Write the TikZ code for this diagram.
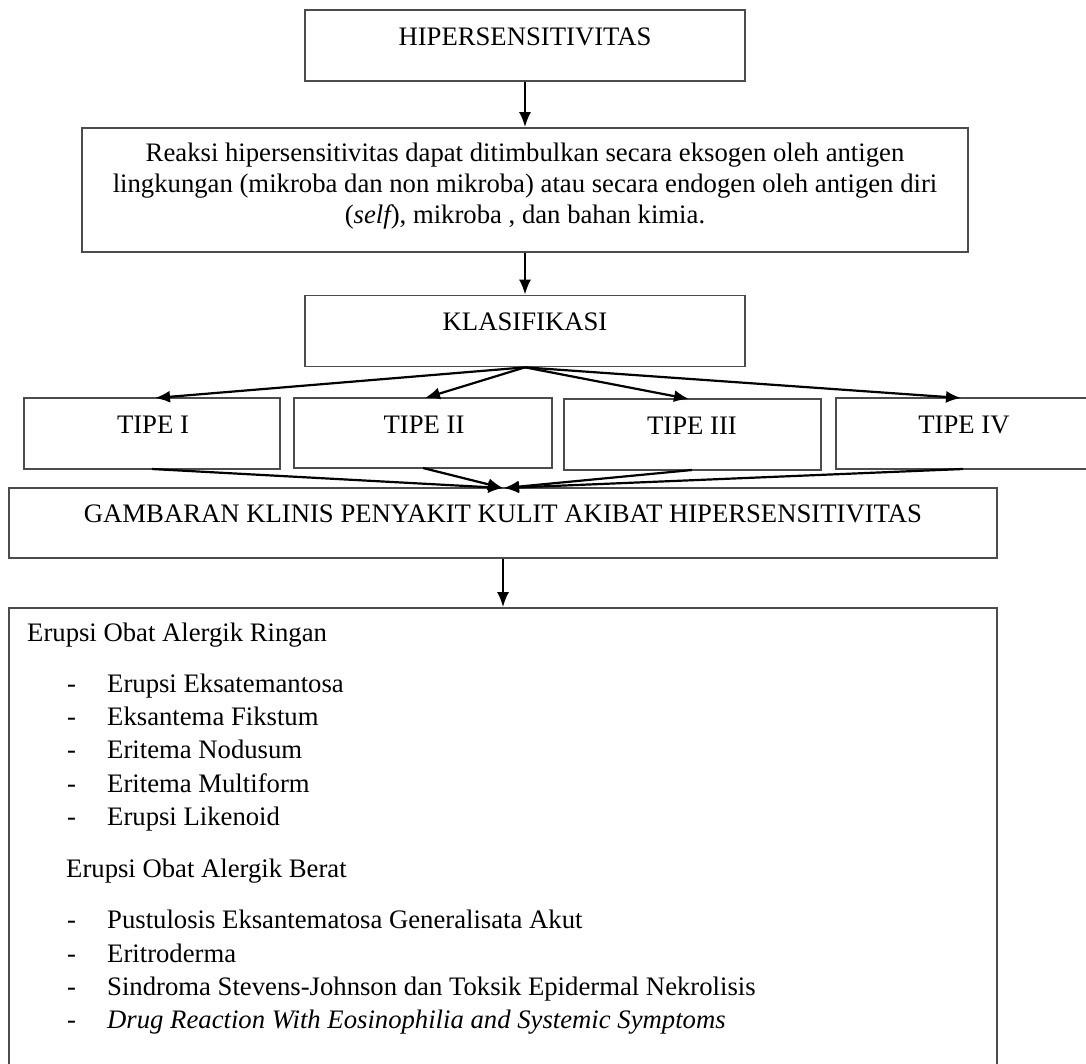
\documentclass[tikz,border=0pt]{standalone}
\usepackage{fontspec}
\setmainfont{Liberation Serif}
\usetikzlibrary{arrows.meta}
\tikzset{
  box/.style={draw=black!70, line width=1.7pt, rectangle, inner sep=0pt},
  lbl/.style={anchor=base, inner sep=0pt, font=\fontsize{26.7}{31}\selectfont},
  lbll/.style={anchor=base west, inner sep=0pt, font=\fontsize{26.7}{31}\selectfont},
  arr/.style={draw=black, line width=2.2pt, -{Latex[length=15pt,width=12pt]}}
}
\begin{document}
\begin{tikzpicture}[x=1pt,y=-1pt]
\useasboundingbox (0,0) rectangle (1086,1063);
\clip (0,0) rectangle (1086,1063);
% boxes
\node[box, minimum width=440pt, minimum height=71pt] (hip) at (525,45.5) {};
\node[box, minimum width=886pt, minimum height=124pt] (rea) at (525,190) {};
\node[box, minimum width=440pt, minimum height=71pt] (kla) at (525,331) {};
\node[box, minimum width=256pt, minimum height=71pt] (t1) at (152,433.5) {};
\node[box, minimum width=258pt, minimum height=70pt] (t2) at (423,433) {};
\node[box, minimum width=257pt, minimum height=71pt] (t3) at (692.5,434.5) {};
\node[box, minimum width=264pt, minimum height=71pt] (t4) at (968,433.5) {};
\node[box, minimum width=988pt, minimum height=70pt] (gam) at (503,523) {};
\node[box, minimum width=988pt, minimum height=470pt] (lst) at (503,843) {};
% texts
\node[lbl] (hipT) at (525,45) {HIPERSENSITIVITAS};
\node[lbl, align=center, anchor=north] (reaT) at (525,143) {Reaksi hipersensitivitas dapat ditimbulkan secara eksogen oleh antigen\\ lingkungan (mikroba dan non mikroba) atau secara endogen oleh antigen diri\\ ({\itshape self}), mikroba , dan bahan kimia.};
\node[lbl] (klaT) at (525,330) {KLASIFIKASI};
\node[lbl] (t1T) at (153,433) {TIPE I};
\node[lbl] (t2T) at (424,433) {TIPE II};
\node[lbl] (t3T) at (692,434) {TIPE III};
\node[lbl] (t4T) at (964,433) {TIPE IV};
\node[lbl] (gamT) at (503,522) {GAMBARAN KLINIS PENYAKIT KULIT AKIBAT HIPERSENSITIVITAS};
% list
\node[lbll] (h1) at (27,641) {Erupsi Obat Alergik Ringan};
\node[lbll] (d1) at (67,692) {-};
\node[lbll] (i1) at (107,692) {Erupsi Eksatemantosa};
\node[lbll] (d2) at (67,725) {-};
\node[lbll] (i2) at (107,725) {Eksantema Fikstum};
\node[lbll] (d3) at (67,758) {-};
\node[lbll] (i3) at (107,758) {Eritema Nodusum};
\node[lbll] (d4) at (67,792) {-};
\node[lbll] (i4) at (107,792) {Eritema Multiform};
\node[lbll] (d5) at (67,825) {-};
\node[lbll] (i5) at (107,825) {Erupsi Likenoid};
\node[lbll] (h2) at (66,877) {Erupsi Obat Alergik Berat};
\node[lbll] (d6) at (67,928) {-};
\node[lbll] (i6) at (107,928) {Pustulosis Eksantematosa Generalisata Akut};
\node[lbll] (d7) at (67,962) {-};
\node[lbll] (i7) at (107,962) {Eritroderma};
\node[lbll] (d8) at (67,995) {-};
\node[lbll] (i8) at (107,995) {Sindroma Stevens-Johnson dan Toksik Epidermal Nekrolisis};
\node[lbll] (d9) at (67,1028) {-};
\node[lbll] (i9) at (107,1028) {\textit{Drug Reaction With Eosinophilia and Systemic Symptoms}};
% connector points
\coordinate (k0) at (kla.south);
\coordinate (a1) at (155,398);
\coordinate (a2) at (425,398);
\coordinate (a3) at (689,399);
\coordinate (a4) at (961,398);
\coordinate (s1) at (152,469);
\coordinate (s2) at (423,468);
\coordinate (s3) at (692,470);
\coordinate (s4) at (963,469);
\coordinate (gl) at (503,488);
\coordinate (gr) at (504,488);
% arrows
\draw[arr] (hip.south) -- (rea.north);
\draw[arr] (rea.south) -- (kla.north);
\draw[arr] (k0) -- (a1);
\draw[arr] (k0) -- (a2);
\draw[arr] (k0) -- (a3);
\draw[arr] (k0) -- (a4);
\draw[arr] (s1) -- (gl);
\draw[arr] (s2) -- (gl);
\draw[arr] (s3) -- (gr);
\draw[arr] (s4) -- (gr);
\draw[arr] (gam.south) -- (lst.north);
\end{tikzpicture}
\end{document}
